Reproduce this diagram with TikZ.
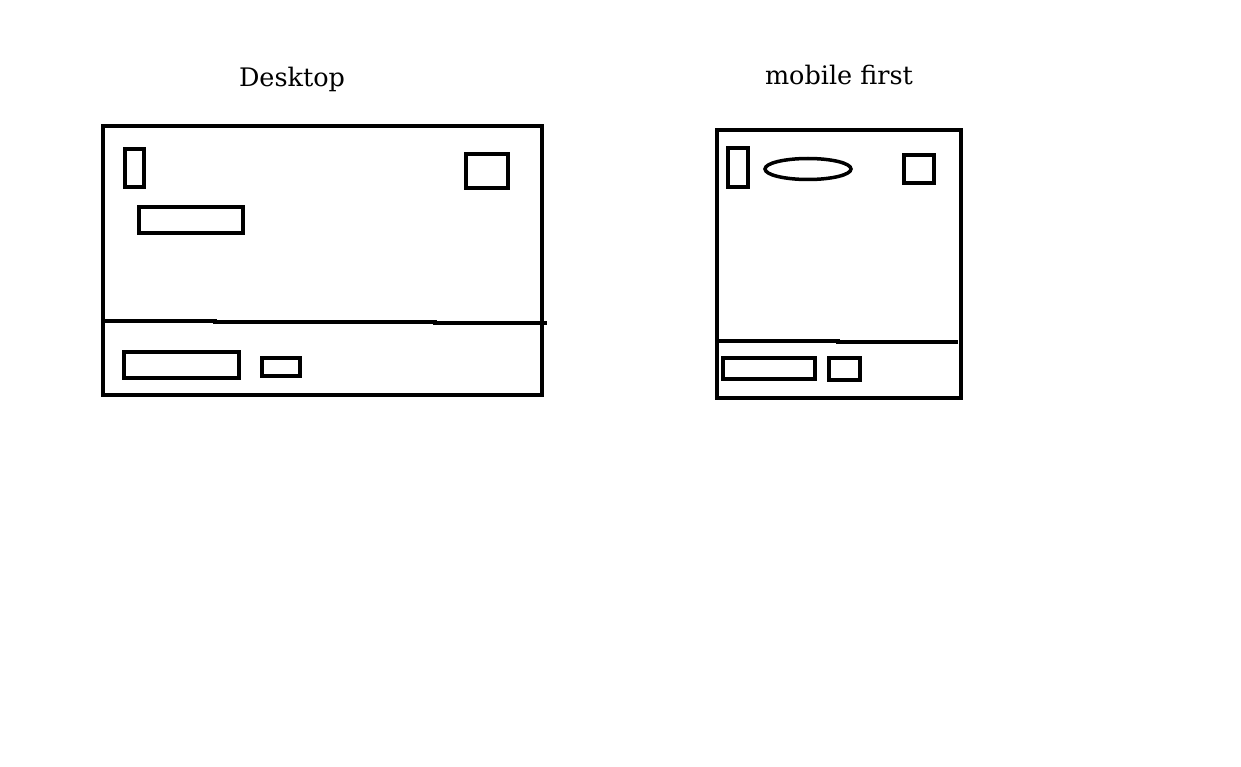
\documentclass[tikz,border=0pt]{standalone}
\usepackage{fontspec}
\setmainfont{DejaVu Serif}
\begin{document}
\begin{tikzpicture}[x=1pt,y=-1pt,
  frame/.style={draw=black,line width=4.6pt},
  part/.style={draw=black,line width=4.2pt},
  lbl/.style={font=\fontsize{25.5}{30}\selectfont,text=black,inner sep=0pt}]
\useasboundingbox[fill=white] (0,0) rectangle (1241,767);

% Desktop layout
\node[lbl] (tdesk) at (292,79) {Desktop};
\draw[frame] (103,126) rectangle (542,395);
\draw[frame] (105,321) -- (215,321) -- (215,322) -- (435,322) -- (435,323) -- (547,323);
\draw[part] (125,149) rectangle (144,187);
\draw[part] (466,154) rectangle (508,188);
\draw[part] (139,207) rectangle (243,233);
\draw[part] (124,352) rectangle (239,378);
\draw[part] (262,358) rectangle (300,376);

% Mobile-first layout
\node[lbl] (tmob) at (839,75) {mobile first};
\draw[frame] (717,130) rectangle (961,398);
\draw[frame] (719,341) -- (838,341) -- (838,342) -- (958,342);
\draw[part] (728,148) rectangle (748,187);
\draw[draw=black,line width=3.5pt] (808,169) ellipse [x radius=43, y radius=10.5];
\draw[part] (904,155) rectangle (934,183);
\draw[part] (723,358) rectangle (815,379);
\draw[part] (829,358) rectangle (860,380);
\end{tikzpicture}
\end{document}
